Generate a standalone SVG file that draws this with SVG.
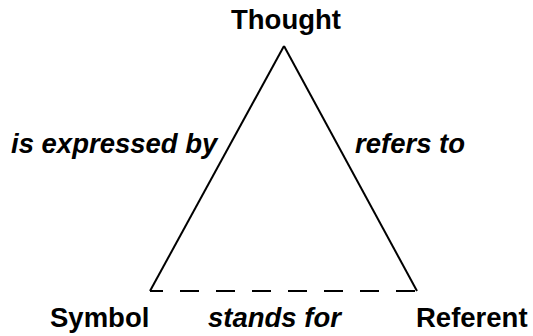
<svg xmlns="http://www.w3.org/2000/svg" width="533" height="336" viewBox="0 0 533 336">
<style>
.lbl{font-family:"Liberation Sans",Arial,sans-serif;font-size:27.5px;font-weight:bold;fill:#000}
.it{font-style:italic}
.edge{stroke:#000;stroke-width:2;fill:none}
</style>
<rect width="533" height="336" fill="#fff"/>
<g id="connectors">
<line class="edge" x1="150" y1="291" x2="284" y2="46"/>
<line class="edge" x1="284" y1="46" x2="417" y2="291"/>
<line class="edge" x1="150" y1="291" x2="417" y2="291" stroke-dasharray="19 17" stroke-dashoffset="6"/>
<text class="lbl it" x="11" y="153">is expressed by</text>
<text class="lbl it" x="355" y="153">refers to</text>
<text class="lbl it" x="208" y="327">stands for</text>
</g>
<g id="thought"><text class="lbl" x="231" y="29">Thought</text></g>
<g id="symbol"><text class="lbl" x="50" y="327">Symbol</text></g>
<g id="referent"><text class="lbl" x="416" y="327">Referent</text></g>
</svg>
